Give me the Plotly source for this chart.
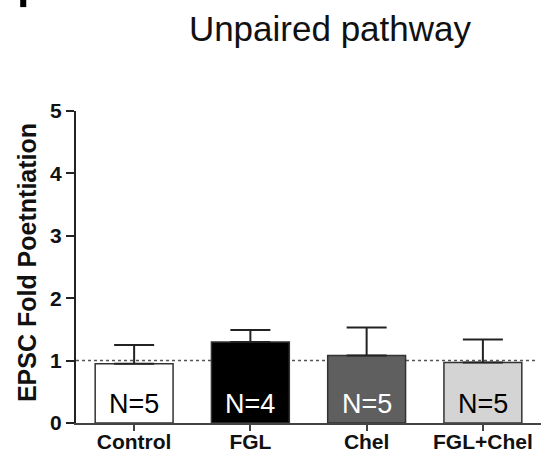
import plotly.graph_objects as go

categories = ["Control", "FGL", "Chel", "FGL+Chel"]
means = [0.95, 1.30, 1.08, 0.97]
sem = [0.30, 0.19, 0.45, 0.37]
n_labels = ["N=5", "N=4", "N=5", "N=5"]
bar_colors = ["#ffffff", "#000000", "#5f5f5f", "#d4d4d4"]
label_colors = ["#000000", "#ffffff", "#ffffff", "#000000"]
y_ticks = [0, 1, 2, 3, 4, 5]
baseline = 1

FONT = "Liberation Sans, Arial"

fig = go.Figure()
fig.add_trace(go.Bar(
    x=categories, y=means, width=0.67,
    marker=dict(color=bar_colors, line=dict(color="#333333", width=1.5)),
    error_y=dict(type="data", array=sem, arrayminus=[0]*len(sem), symmetric=False,
                 color="#222222", thickness=2, width=20),
    showlegend=False,
))

for c, t, col in zip(categories, n_labels, label_colors):
    fig.add_annotation(x=c, y=0.31, text=t, showarrow=False,
                       font=dict(family=FONT, size=27, color=col),
                       xanchor="center", yanchor="middle")

fig.add_shape(type="line", xref="x domain", yref="y", x0=0, x1=0.99, y0=baseline, y1=baseline,
              line=dict(color="#555555", width=1.5, dash="dot"), layer="below")

# y-axis title
fig.add_annotation(xref="paper", yref="paper", x=-0.105, y=0.513, text="EPSC Fold Poetntiation",
                   textangle=-90, showarrow=False, xanchor="center", yanchor="middle",
                   font=dict(family=FONT, size=25, color="#111111", weight="bold"))

# truncated panel letter fragment at top-left
fig.add_shape(type="rect", xref="paper", yref="paper", x0=-0.12, x1=-0.107, y0=1.333, y1=1.36,
              fillcolor="#000000", line=dict(width=0))

fig.update_layout(
    width=549, height=460,
    margin=dict(l=76, r=8, t=111, b=37, autoexpand=False),
    paper_bgcolor="white", plot_bgcolor="white",
    title=dict(text="Unpaired pathway", x=0.601, xref="container", xanchor="center",
               y=1 - 29/460, yref="container", yanchor="middle",
               font=dict(family=FONT, size=35, color="#111111")),
    xaxis=dict(range=[-0.5, 3.5], showline=True, linecolor="#444444", linewidth=2,
               ticks="outside", ticklen=6, tickwidth=2, tickcolor="#444444",
               ticklabelstandoff=-7,
               tickfont=dict(family=FONT, size=21, color="#111111", weight="bold"),
               showgrid=False, zeroline=False, fixedrange=True, automargin=False),
    yaxis=dict(range=[0, 5], tickvals=y_ticks, showline=True, linecolor="#222222", linewidth=2,
               ticks="outside", ticklen=8, tickwidth=1.5, tickcolor="#222222",
               tickfont=dict(family=FONT, size=21, color="#111111", weight="bold"),
               showgrid=False, zeroline=False, fixedrange=True, automargin=False),
)

fig.write_html("out.html", config={"displayModeBar": False},
               post_script="document.body.style.margin='0px';")
